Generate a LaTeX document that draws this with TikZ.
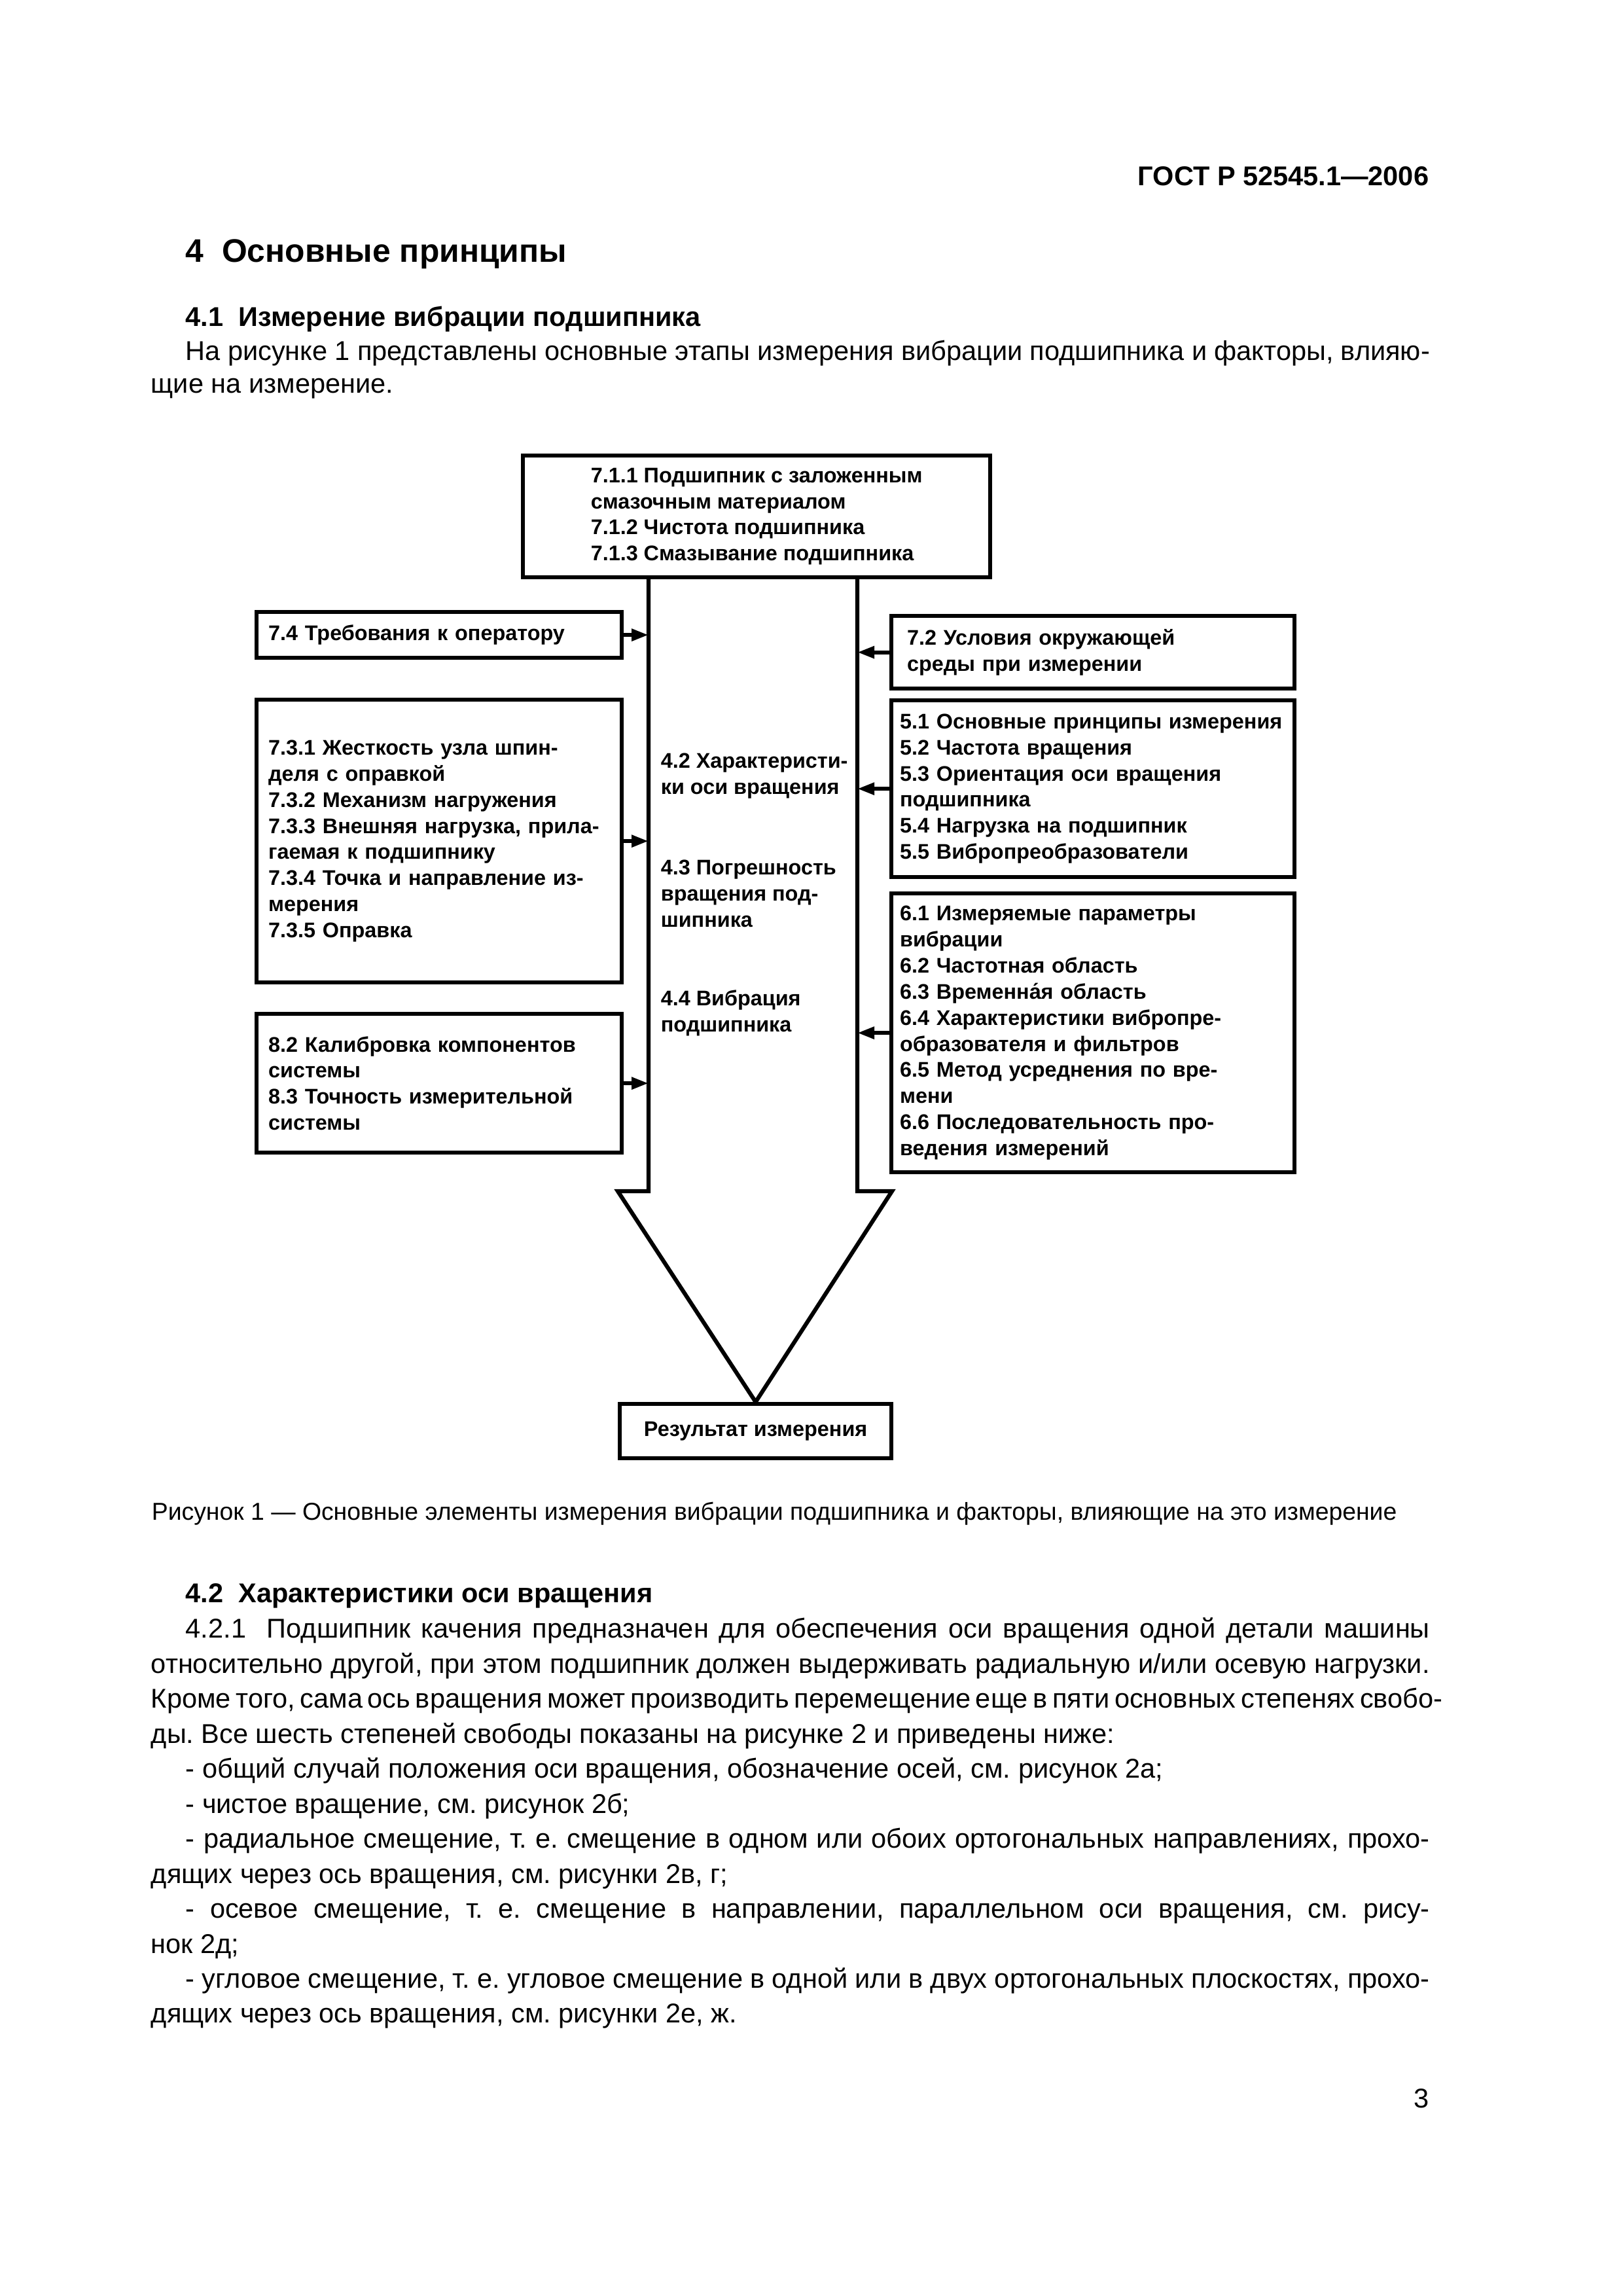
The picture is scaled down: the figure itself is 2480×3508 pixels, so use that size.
\documentclass[tikz,border=0pt]{standalone}
\usepackage{fontspec}
\setmainfont{Liberation Sans}
\usetikzlibrary{arrows.meta,positioning}
\newdimen\pxu \pxu=0.0846774mm
\newcommand{\boxfont}{\fontsize{7.8}{9.6}\selectfont\bfseries}
\newcommand{\bodyfont}{\fontsize{10}{13}\selectfont}
\frenchspacing

\begin{document}
\begin{tikzpicture}[x=0.0846774mm,y=-0.0846774mm,
  frame/.style={draw,line width=1.5pt,font=\boxfont,align=left,anchor=north west,inner ysep=0pt},
  lbox/.style={frame,text width=522\pxu,inner xsep=18\pxu},
  rbox/.style={frame,text width=590\pxu,inner xsep=13\pxu},
  lbl/.style={font=\boxfont,align=left,anchor=north west,inner sep=0pt},
  arr/.style={line width=1.5pt,-{Triangle[length=2.2mm,width=1.5mm]}},
  txt/.style={font=\bodyfont,anchor=base west,inner sep=0pt},
  head/.style={font=\fontsize{10}{12}\selectfont\bfseries,anchor=base west,inner sep=0pt}]
  \useasboundingbox[fill=white] (0,0) rectangle (2480,3508);

  % page head
  \node[head,anchor=base east] (gost) at (2184,283) {ГОСТ Р 52545.1—2006};
  \node[head,font=\fontsize{12}{14}\selectfont\bfseries] (sec4) at (283,400) {4\ \ Основные принципы};
  \node[head] (sec41) at (283,498) {4.1\ \ Измерение вибрации подшипника};
  \node[txt] (p1a) at (283,550) {\makebox[1901\pxu][s]{На рисунке 1 представлены основные этапы измерения вибрации подшипника и факторы, влияю-}};
  \node[txt] (p1b) at (230,600) {щие на измерение.};

  % figure 1
  \node[frame,minimum width=714\pxu,minimum height=186\pxu] (src) at (796,693)
    {7.1.1 Подшипник с заложенным\\смазочным материалом\\7.1.2 Чистота подшипника\\7.1.3 Смазывание подшипника};
  \node[lbox,minimum height=70\pxu] (oper) at (389,932) {7.4 Требования к оператору};
  \node[lbox,minimum height=432\pxu] (spind) at (389,1066)
    {7.3.1 Жесткость узла шпин-\\деля с оправкой\\7.3.2 Механизм нагружения\\7.3.3 Внешняя нагрузка, прила-\\гаемая к подшипнику\\7.3.4 Точка и направление из-\\мерения\\7.3.5 Оправка};
  \node[lbox,minimum height=212\pxu] (calib) at (389,1546)
    {8.2 Калибровка компонентов\\системы\\8.3 Точность измерительной\\системы};
  \node[frame,text width=568\pxu,inner xsep=24\pxu,minimum height=111\pxu] (envir) at (1359,938)
    {7.2 Условия окружающей\\среды при измерении};
  \node[rbox,minimum height=270\pxu] (princ) at (1359,1067)
    {5.1 Основные принципы измерения\\5.2 Частота вращения\\5.3 Ориентация оси вращения\\подшипника\\5.4 Нагрузка на подшипник\\5.5 Вибропреобразователи};
  \node[rbox,minimum height=426\pxu] (param) at (1359,1362)
    {6.1 Измеряемые параметры\\вибрации\\6.2 Частотная область\\6.3 Временна́я область\\6.4 Характеристики вибропре-\\образователя и фильтров\\6.5 Метод усреднения по вре-\\мени\\6.6 Последовательность про-\\ведения измерений};
  \node[frame,align=center,minimum width=415\pxu,minimum height=83\pxu] (res) at (944,2142) {Результат измерения};

  \node[lbl] (ch42) at (1009,1150) {4.2 Характеристи-\\ки оси вращения};
  \node[lbl] (ch43) at (1009,1313) {4.3 Погрешность\\вращения под-\\шипника};
  \node[lbl] (ch44) at (1009,1512) {4.4 Вибрация\\подшипника};

  % big arrow
  \coordinate (shL) at (991,879);
  \coordinate (shR) at (1310,879);
  \draw[line width=1.5pt,line join=miter] (src.south -| shL) -- (991,1820) -- (944,1820) -- (res.north)
    -- (1363,1820) -- (1310,1820) -- (src.south -| shR);
  \foreach \b in {oper,spind,calib}
    \draw[arr] (\b.east) -- (\b.east -| shL);
  \foreach \b in {envir,princ,param}
    \draw[arr] (\b.west) -- (\b.west -| shR);

  \node[txt,font=\fontsize{9}{11}\selectfont] (cap) at (231,2322)
    {Рисунок 1 — Основные элементы измерения вибрации подшипника и факторы, влияющие на это измерение};

  % section 4.2
  \node[head] (sec42) at (283,2448) {4.2\ \ Характеристики оси вращения};
  \foreach \y/\x/\w/\s in {
    2502/283/1901/{4.2.1\ \ Подшипник качения предназначен для обеспечения оси вращения одной детали машины},
    2556/230/1954/{относительно другой, при этом подшипник должен выдерживать радиальную и/или осевую нагрузки.},
    2609/230/1954/{Кроме того, сама ось вращения может производить перемещение еще в пяти основных степенях свобо-},
    2823/283/1901/{- радиальное смещение, т.~е. смещение в одном или обоих ортогональных направлениях, прохо-},
    2930/283/1901/{- осевое смещение, т.~е. смещение в направлении, параллельном оси вращения, см. рису-},
    3037/283/1901/{- угловое смещение, т.~е. угловое смещение в одной или в двух ортогональных плоскостях, прохо-}}
    \node[txt] (j\y) at (\x,\y) {\makebox[\w\pxu][s]{\s}};
  \foreach \y/\x/\s in {
    2663/230/{ды. Все шесть степеней свободы показаны на рисунке 2 и приведены ниже:},
    2716/283/{- общий случай положения оси вращения, обозначение осей, см. рисунок 2а;},
    2770/283/{- чистое вращение, см. рисунок 2б;},
    2877/230/{дящих через ось вращения, см. рисунки 2в, г;},
    2984/230/{нок 2д;},
    3090/230/{дящих через ось вращения, см. рисунки 2е, ж.}}
    \node[txt] (r\y) at (\x,\y) {\s};

  \node[txt,anchor=base east] (pgno) at (2184,3220) {3};
\end{tikzpicture}
\end{document}
